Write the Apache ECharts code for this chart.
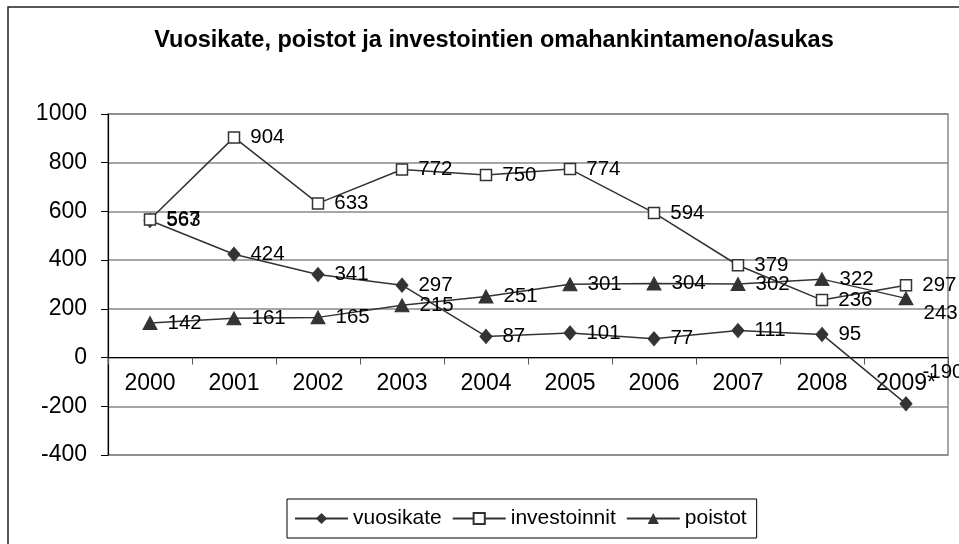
<!DOCTYPE html>
<html>
<head>
<meta charset="utf-8">
<script src="https://cdn.jsdelivr.net/npm/echarts@6/dist/echarts.min.js"></script>
<style>html,body{margin:0;padding:0;background:#fff}#c{width:959px;height:544px}</style>
</head>
<body>
<div id="c"></div>
<script>
const categories = ['2000','2001','2002','2003','2004','2005','2006','2007','2008','2009*'];
const vuosikate = [563, 424, 341, 297, 87, 101, 77, 111, 95, -190];
const investoinnit = [567, 904, 633, 772, 750, 774, 594, 379, 236, 297];
const poistot = [142, 161, 165, 215, 251, 301, 304, 302, 322, 243];
const yTicks = {min: -400, max: 1000, interval: 200};

const FONT = 'Liberation Sans, Arial, sans-serif';
const lineColor = '#333';
const labelStyle = {show: true, position: 'right', distance: 10, color: '#000', fontSize: 20.5, fontFamily: FONT};

function withLastOffset(arr, offset) {
  return arr.map((v, i) => i === arr.length - 1 && offset ? {value: v, label: {offset: offset}} : v);
}

const gridTop = 114, gridBottom = 89, chartH = 544;
// distance from plot bottom to the zero line, derived from the y scale
const plotH = chartH - gridTop - gridBottom;
const zeroShift = plotH * (0 - yTicks.min) / (yTicks.max - yTicks.min);

const chart = echarts.init(document.getElementById('c'), null, {renderer: 'canvas'});
chart.setOption({
  backgroundColor: '#fff',
  animation: false,
  title: {
    text: 'Vuosikate, poistot ja investointien omahankintameno/asukas',
    left: 489, top: 24, textAlign: 'center',
    textStyle: {fontFamily: FONT, fontWeight: 'bold', fontSize: 23.5, color: '#000'}
  },
  graphic: [{
    type: 'rect', shape: {x: 8, y: 7, width: 1000, height: 600},
    style: {fill: 'none', stroke: '#222', lineWidth: 1.5}, silent: true, z: 100
  }],
  legend: {
    left: 287, top: 499,
    data: ['vuosikate', 'investoinnit', 'poistot'],
    borderColor: '#000', borderWidth: 1,
    padding: [9, 10, 9, 7],
    itemWidth: 53, itemHeight: 14, itemGap: 10,
    textStyle: {fontFamily: FONT, fontSize: 21, color: '#000'}
  },
  grid: {
    left: 108, right: 11, top: gridTop, bottom: gridBottom,
    show: true, borderColor: '#888', borderWidth: 1.5, backgroundColor: 'transparent'
  },
  xAxis: {
    type: 'category', data: categories, boundaryGap: true,
    offset: -zeroShift,
    axisLine: {onZero: false, lineStyle: {color: '#000', width: 1.2}},
    axisTick: {show: true, length: 7, lineStyle: {color: '#555'}},
    axisLabel: {margin: 15, fontFamily: FONT, fontSize: 23, color: '#000'},
    splitLine: {show: false}
  },
  yAxis: {
    type: 'value', min: yTicks.min, max: yTicks.max, interval: yTicks.interval,
    axisLine: {show: true, lineStyle: {color: '#000', width: 1.2}},
    axisTick: {show: true, length: 7, lineStyle: {color: '#000'}},
    axisLabel: {margin: 21, fontFamily: FONT, fontSize: 23, color: '#000', formatter: v => String(v)},
    splitLine: {show: true, lineStyle: {color: '#888', width: 1.5}}
  },
  series: [
    {
      name: 'vuosikate', type: 'line', data: withLastOffset(vuosikate, [0, -32]),
      symbol: 'diamond', symbolSize: [12, 14],
      lineStyle: {color: lineColor, width: 1.5},
      itemStyle: {color: lineColor, borderColor: lineColor},
      label: labelStyle
    },
    {
      name: 'investoinnit', type: 'line', data: investoinnit,
      symbol: 'rect', symbolSize: 11,
      lineStyle: {color: lineColor, width: 1.5},
      itemStyle: {color: '#fff', borderColor: lineColor, borderWidth: 1.5},
      label: labelStyle
    },
    {
      name: 'poistot', type: 'line', data: withLastOffset(poistot, [0, 15]),
      symbol: 'triangle', symbolSize: [14, 13],
      lineStyle: {color: lineColor, width: 1.5},
      itemStyle: {color: lineColor, borderColor: lineColor},
      label: labelStyle
    }
  ]
});
</script>
</body>
</html>
